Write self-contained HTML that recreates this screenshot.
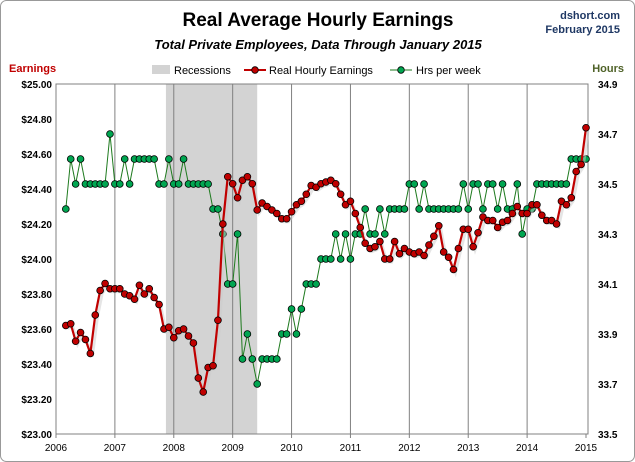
<!DOCTYPE html>
<html><head><meta charset="utf-8"><style>
body{margin:0;background:#fff;}
svg{display:block;font-family:"Liberation Sans",sans-serif;}
</style></head><body>
<svg id="chart" width="635" height="462">
<rect x="0.5" y="0.5" width="634" height="461" rx="6" fill="#fff" stroke="#999"/>
<text x="318" y="26" text-anchor="middle" font-size="19" font-weight="bold" fill="#000">Real Average Hourly Earnings</text>
<text x="318" y="49" text-anchor="middle" font-size="13" font-weight="bold" font-style="italic" fill="#000">Total Private Employees, Data Through January 2015</text>
<text x="620" y="19" text-anchor="end" font-size="11" font-weight="bold" fill="#1f3864">dshort.com</text>
<text x="620" y="33" text-anchor="end" font-size="11" font-weight="bold" fill="#1f3864">February 2015</text>
<text x="9" y="72" font-size="11" font-weight="bold" fill="#c00000">Earnings</text>
<text x="624" y="72" text-anchor="end" font-size="11" font-weight="bold" fill="#4f6228">Hours</text>
<g>
<rect x="152" y="65" width="18" height="9" fill="#d3d3d3"/>
<text x="174" y="74" font-size="11">Recessions</text>
<line x1="244" y1="70" x2="266" y2="70" stroke="#c00000" stroke-width="2"/>
<circle cx="255" cy="70" r="3.3" fill="#c00000" stroke="#000" stroke-width="0.8"/>
<text x="269" y="74" font-size="11">Real Hourly Earnings</text>
<line x1="390" y1="70" x2="412" y2="70" stroke="#1e7a1e" stroke-width="1"/>
<circle cx="401" cy="70" r="3.3" fill="#00a651" stroke="#000" stroke-width="0.8"/>
<text x="416" y="74" font-size="11">Hrs per week</text>
</g>
<g id="plot"></g>
</svg>
<script>
const earnings=[23.62,23.63,23.53,23.58,23.54,23.46,23.68,23.82,23.86,23.83,
23.83,23.83,23.80,23.79,23.77,23.85,23.80,23.83,23.78,23.74,23.60,23.61,
23.55,23.59,23.60,23.56,23.52,23.32,23.24,23.38,23.39,23.65,24.20,24.47,
24.43,24.35,24.45,24.47,24.43,24.28,24.32,24.30,24.28,24.26,24.23,24.23,
24.27,24.31,24.33,24.37,24.42,24.41,24.43,24.44,24.45,24.43,24.37,24.31,
24.33,24.26,24.18,24.09,24.06,24.07,24.10,24.00,24.00,24.10,24.03,24.06,
24.04,24.03,24.04,24.02,24.08,24.13,24.19,24.04,24.01,23.94,24.06,24.17,
24.17,24.07,24.15,24.24,24.22,24.22,24.18,24.21,24.22,24.26,24.30,24.26,
24.26,24.31,24.31,24.25,24.22,24.22,24.20,24.33,24.31,24.35,24.50,24.54,
24.75];
const hours=[34.4,34.6,34.5,34.6,34.5,34.5,34.5,34.5,34.5,34.7,
34.5,34.5,34.6,34.5,34.6,34.6,34.6,34.6,34.6,34.5,34.5,34.6,
34.5,34.5,34.6,34.5,34.5,34.5,34.5,34.5,34.4,34.4,34.3,34.1,
34.1,34.3,33.8,33.9,33.8,33.7,33.8,33.8,33.8,33.8,33.9,33.9,
34.0,33.9,34.0,34.1,34.1,34.1,34.2,34.2,34.2,34.3,34.2,34.3,
34.2,34.3,34.3,34.4,34.3,34.3,34.4,34.3,34.4,34.4,34.4,34.4,
34.5,34.5,34.4,34.5,34.4,34.4,34.4,34.4,34.4,34.4,34.4,34.5,
34.4,34.5,34.5,34.4,34.5,34.5,34.4,34.5,34.4,34.4,34.5,34.3,
34.4,34.4,34.5,34.5,34.5,34.5,34.5,34.5,34.5,34.6,34.6,34.6,
34.6];
const yearLabels=["2006","2007","2008","2009","2010","2011","2012","2013","2014","2015"];
const leftTicks=[25.00,24.80,24.60,24.40,24.20,24.00,23.80,23.60,23.40,23.20,23.00];
const rightTicks=[34.9,34.7,34.5,34.3,34.1,33.9,33.7,33.5];
const recession=[2007+10.4/12,2009+5/12];
const startYear=2006+2/12;

const X0=56,X1=586,Y0=84,Y1=434;
const xs=t=>X0+(t-2006)/9*(X1-X0);
const yL=v=>Y0+(25-v)/2*(Y1-Y0);
const yR=v=>Y0+(34.9-v)/1.4*(Y1-Y0);
const NS="http://www.w3.org/2000/svg";
const g=document.getElementById('plot');
function mk(tag,attrs,parent){const e=document.createElementNS(NS,tag);for(const k in attrs)e.setAttribute(k,attrs[k]);(parent||g).appendChild(e);return e;}

const rec=mk('rect',{x:xs(recession[0]),y:Y0,width:xs(recession[1])-xs(recession[0]),height:Y1-Y0,fill:'#d3d3d3'});


yearLabels.forEach((lab,i)=>{
  const x=xs(2006+i);
  if(i>0&&i<9){const l=mk('line',{x1:x,y1:Y0,x2:x,y2:Y1,stroke:'#808080','stroke-width':1});
  
  }
  mk('line',{x1:x,y1:Y1,x2:x,y2:Y1+4,stroke:'#808080'});
  const t=mk('text',{x:x,y:Y1+17,'text-anchor':'middle','font-size':10});
  t.textContent=lab;
  
  
});
const frame=mk('rect',{x:X0,y:Y0,width:X1-X0+2,height:Y1-Y0,fill:'none',stroke:'#808080'});


leftTicks.forEach(v=>{const t=mk('text',{x:X0-4,y:yL(v)+4,'text-anchor':'end','font-size':10,'font-weight':'bold'});t.textContent='$'+v.toFixed(2);

});
rightTicks.forEach(v=>{const t=mk('text',{x:X1+12,y:yR(v)+4,'font-size':10,'font-weight':'bold'});t.textContent=v.toFixed(1);

});

const tx=i=>xs(startYear+i/12);
const hp=hours.map((v,i)=>tx(i)+','+yR(v)).join(' ');
const hl=mk('polyline',{points:hp,fill:'none',stroke:'#1e7a1e','stroke-width':1});


hours.forEach((v,i)=>{const c=mk('circle',{cx:tx(i),cy:yR(v),r:3.4,fill:'#00a651',stroke:'#000','stroke-width':0.8});

});
const ep=earnings.map((v,i)=>tx(i)+','+yL(v)).join(' ');
mk('polyline',{points:earnings.map((v,i)=>(tx(i)+2)+','+(yL(v)+3)).join(' '),fill:'none',stroke:'#ccc','stroke-width':3,opacity:0.5});
const el=mk('polyline',{points:ep,fill:'none',stroke:'#c00000','stroke-width':2.2});


earnings.forEach((v,i)=>{const c=mk('circle',{cx:tx(i),cy:yL(v),r:3.4,fill:'#c00000',stroke:'#000','stroke-width':0.8});

});
</script>
</body></html>
